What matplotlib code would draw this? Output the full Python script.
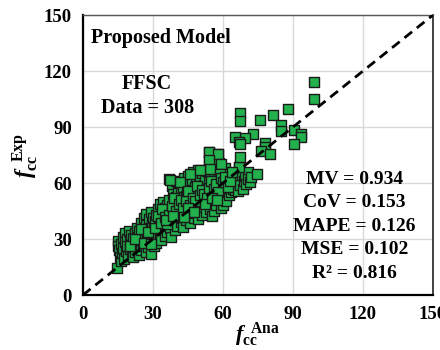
import matplotlib
matplotlib.use("Agg")
import matplotlib.pyplot as plt

plt.rcParams['font.family'] = ['Liberation Serif', 'DejaVu Serif']
plt.rcParams['font.weight'] = 'bold'
plt.rcParams['mathtext.fontset'] = 'custom'
plt.rcParams['mathtext.rm'] = 'Liberation Serif'
plt.rcParams['mathtext.bf'] = 'Liberation Serif:bold'
plt.rcParams['mathtext.it'] = 'Liberation Serif:italic'
plt.rcParams['mathtext.bfit'] = 'Liberation Serif:italic:bold'

# analytical vs experimental confined strength (MPa), FFSC specimens
f_ana = [
    14.5, 15.0, 15.2, 15.5, 15.8, 16.2, 16.5, 16.8, 17.0, 17.3, 17.6, 18.0, 18.2, 18.5, 18.8, 19.0, 19.3, 19.6, 20.0, 20.2,
    20.5, 20.8, 21.0, 21.3, 21.6,
    22.0, 22.2, 22.5, 22.8, 23.0, 23.3, 23.5, 23.8, 24.0, 24.2, 24.5, 24.8, 25.0, 25.2, 25.5, 25.8, 26.0, 26.2, 26.5, 26.8,
    27.0, 27.2, 27.5, 27.8, 28.0, 28.2, 28.5, 28.8, 29.0, 29.2, 29.5, 29.8, 30.0, 30.0, 30.3, 30.5, 30.8, 31.0, 31.2, 31.5,
    31.8, 32.0, 32.2, 32.5, 32.8,
    33.0, 33.2, 33.5, 33.8, 34.0, 34.2, 34.5, 34.8, 35.0, 35.2, 35.5, 35.8, 36.0, 36.2, 36.5, 36.8, 37.0, 37.2, 37.5, 37.8,
    38.0, 38.2, 38.5, 38.8, 39.0, 39.2, 39.5, 39.8, 40.0, 40.0, 40.3, 40.5, 40.8, 41.0, 41.2, 41.5, 41.8, 42.0, 42.2, 42.5,
    42.8, 43.0, 43.2, 43.5, 43.8, 44.0, 44.2, 44.5, 44.8, 45.0, 45.2, 45.5, 45.8, 46.0, 46.2,
    46.5, 46.8, 47.0, 47.2, 47.5, 47.8, 48.0, 48.2, 48.5, 48.8, 49.0, 49.2, 49.5, 49.8, 50.0, 50.0, 50.3, 50.5, 50.8, 51.0,
    51.2, 51.5, 51.8, 52.0, 52.2, 52.5, 52.8, 53.0, 53.2, 53.5, 53.8, 54.0, 54.0, 54.3, 54.5, 54.8, 55.0, 55.2, 55.5, 55.8,
    56.0, 56.2, 56.5, 56.8, 57.0, 57.2, 57.5, 57.8, 58.0, 58.2, 58.5, 58.8, 59.0, 59.2, 59.5, 59.8, 60.0, 60.0, 60.3, 60.5,
    60.8, 61.0, 61.2, 61.5, 61.8, 62.0, 62.2, 62.5, 62.8, 63.0, 63.3, 63.5, 63.8, 64.0, 64.3, 64.5, 64.8, 65.0, 65.3, 65.6,
    66.0, 66.0, 66.5, 67.0, 67.0, 67.5, 68.0, 68.5, 69.0, 69.5, 70.0, 70.7, 70.7, 71.5, 72.0, 74.7, 66.9, 67.1,
    98.9, 98.9, 87.9, 81.4, 75.7, 67.1, 67.1, 85.0, 85.0, 90.3, 93.3, 93.3, 90.3, 72.9, 69.3, 65.3, 66.9, 67.1, 78.1, 78.1,
    76.4, 80.0, 54.0, 57.9, 54.0, 59.3, 54.3, 58.6, 37.1, 41.4, 45.7, 50.0,
    20.0, 22.5, 25.0, 26.0, 28.0, 29.0, 31.0, 32.0, 33.5, 34.0, 35.0, 36.0, 37.0, 38.0, 39.0, 40.0, 41.0, 42.0, 43.0, 44.0,
    45.0, 46.0, 47.0, 48.0, 49.0, 50.0, 51.0, 52.0, 53.0, 54.0, 55.0, 56.0, 57.0, 58.0, 59.0, 60.0, 61.0, 62.0, 63.0, 64.0,
    45.0, 47.5, 52.5, 55.5, 57.5, 35.5, 38.5, 43.5,
]
f_exp = [
    14.5, 29.0, 26.5, 24.0, 20.5, 18.0, 27.5, 22.5, 31.0, 25.0, 19.5, 33.0, 28.5, 23.5, 30.0, 26.0, 21.0, 34.5, 29.5, 24.5,
    32.0, 22.0, 27.0, 20.5, 30.5,
    25.5, 33.0, 23.0, 28.5, 36.0, 26.5, 31.0, 21.5, 29.0, 34.5, 27.0, 24.0, 38.5, 32.5, 29.5, 26.0, 41.0, 35.0, 30.5, 23.0,
    43.5, 37.5, 33.5, 28.0, 25.5, 40.5, 36.0, 31.0, 22.0, 44.5, 38.5, 34.0, 29.0, 41.5, 26.5, 36.5, 32.0, 39.5, 28.0, 43.0,
    34.5, 30.5, 46.0, 37.5, 41.0,
    33.0, 48.5, 29.5, 44.0, 39.0, 35.5, 50.0, 42.0, 31.5, 46.5, 37.5, 33.5, 48.0, 43.5, 40.0, 62.0, 51.0, 36.0, 45.5, 31.0,
    58.5, 41.5, 54.0, 38.0, 49.0, 44.0, 35.0, 61.0, 52.5, 40.5, 47.0, 37.0, 56.5, 43.5, 60.0, 50.0, 39.0, 54.5, 46.0, 41.5,
    58.0, 36.5, 49.0, 62.5, 44.5, 53.0, 40.0, 57.0, 47.5, 64.0, 42.5, 51.0, 59.5, 38.5, 55.0,
    45.0, 61.5, 49.5, 66.0, 41.0, 53.5, 58.0, 44.0, 63.0, 47.5, 55.5, 40.5, 67.0, 51.5, 60.0, 45.5, 63.5, 49.0, 56.5, 43.0,
    65.5, 53.0, 59.0, 47.0, 62.0, 51.0, 44.5, 66.5, 57.0, 49.5, 76.5, 72.0, 60.5, 68.0, 46.0, 54.5, 63.5, 42.5, 58.0, 50.5,
    65.0, 45.0, 61.0, 53.0, 69.0, 48.0, 56.0, 75.5, 63.0, 51.5, 70.5, 59.0, 46.5, 66.0, 54.0, 61.5, 48.0, 57.5, 64.0, 52.0,
    68.0, 55.0, 59.5, 50.5, 62.5, 56.5, 65.5, 53.5, 60.0, 57.5, 63.0, 55.0, 59.5, 61.5, 57.0, 64.0, 58.5, 60.5, 56.0, 62.0,
    60.0, 57.8, 55.5, 68.5, 62.0, 59.0, 64.5, 57.0, 61.0, 63.5, 59.5, 65.9, 62.3, 60.5, 63.0, 65.0, 68.5, 73.9,
    114.2, 104.9, 99.9, 96.3, 94.0, 97.7, 93.3, 90.9, 87.7, 88.6, 86.5, 84.7, 80.7, 86.1, 84.3, 84.7, 82.0, 80.7, 81.4, 79.3,
    77.2, 75.4, 76.6, 75.4, 72.1, 70.3, 67.7, 65.0, 61.8, 60.5, 65.0, 66.8,
    26.0, 30.0, 35.5, 28.0, 34.0, 27.5, 36.0, 42.5, 38.5, 46.0, 42.0, 38.0, 43.0, 47.5, 52.0, 45.0, 48.5, 51.0, 46.5, 50.5,
    55.5, 48.0, 52.0, 50.5, 58.5, 53.5, 56.0, 54.0, 52.0, 57.5, 61.0, 57.0, 59.5, 55.0, 62.5, 60.5, 63.0, 58.0, 61.0, 66.0,
    46.5, 44.5, 48.5, 52.0, 51.0, 40.0, 42.5, 42.0,
]

ticks = [0, 30, 60, 90, 120, 150]
stats = ["MV = 0.934", "CoV = 0.153", "MAPE = 0.126", "MSE = 0.102", "R\u00b2 = 0.816"]

fig = plt.figure(figsize=(4.4, 3.5), dpi=100)
ax = fig.add_axes([0.1886, 0.1571, 0.7955, 0.8])

ax.scatter(f_ana, f_exp, marker='s', s=60, facecolor='#22b14c', edgecolor='#1a1a1a',
           linewidth=1.0, zorder=3)
ax.plot([0, 150], [0, 150], color='black', linestyle=(0, (3.5, 2.2)), linewidth=2.0, zorder=4)

ax.set_xlim(0, 150)
ax.set_ylim(0, 150)
ax.set_xticks(ticks)
ax.set_yticks(ticks)
ax.tick_params(length=0, labelsize=13.5, pad=8)
for lab in ax.get_xticklabels() + ax.get_yticklabels():
    lab.set_fontweight('bold')
ax.grid(color='#d9d9d9', linewidth=1.0, zorder=0)
ax.set_axisbelow(True)

for side in ['left', 'bottom']:
    ax.spines[side].set_linewidth(1.6)
    ax.spines[side].set_color('black')
ax.spines['right'].set_linewidth(1.2)
ax.spines['right'].set_color('#222222')
ax.spines['top'].set_linewidth(1.0)
ax.spines['top'].set_color('#555555')

ax.set_xlabel(r'$\mathbfit{f}_{\mathbf{cc}}^{\ \ \mathbf{Ana}}$', fontsize=16, labelpad=-2)
ax.set_ylabel(r'$\mathbfit{f}_{\mathbf{cc}}^{\ \ \mathbf{Exp}}$', fontsize=16.5, labelpad=3)

ax.text(3.6, 137.7, "Proposed Model", fontsize=14.5, fontweight='bold', ha='left', va='center')
ax.text(27.2, 113, "FFSC", fontsize=14.5, fontweight='bold', ha='center', va='center')
ax.text(27.6, 100.2, "Data = 308", fontsize=14.5, fontweight='bold', ha='center', va='center')
for i, s in enumerate(stats):
    ax.text(116.4, 62.1 - i * 12.6, s, fontsize=14, fontweight='bold', ha='center', va='center')

fig.savefig("out.png", dpi=100)
